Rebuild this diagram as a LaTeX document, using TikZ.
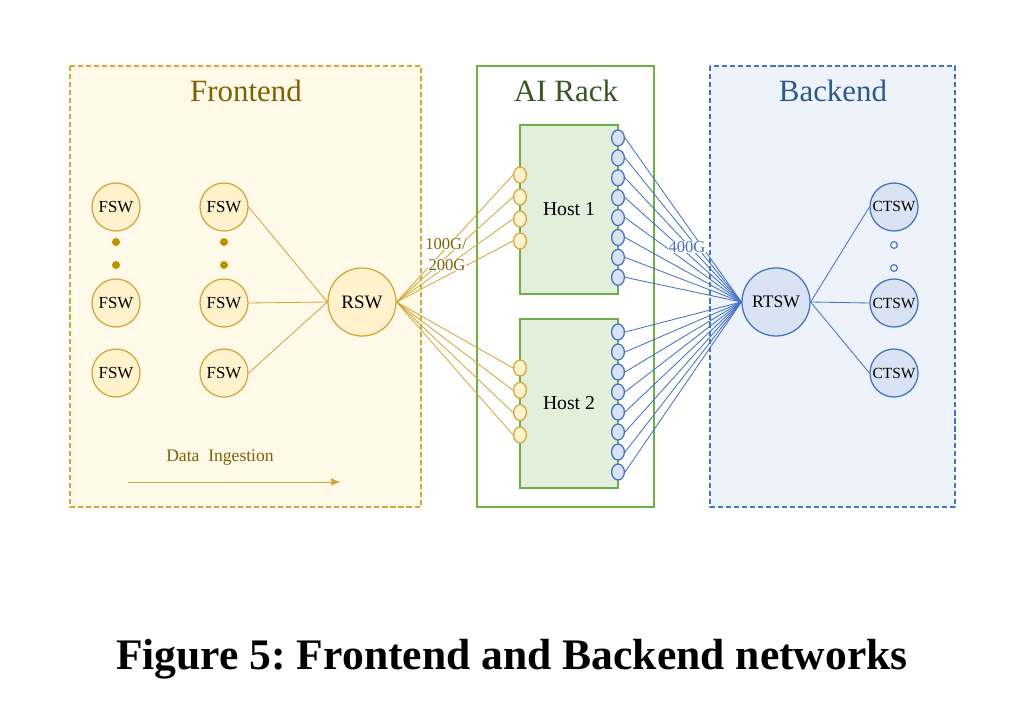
\documentclass[tikz,border=0pt]{standalone}
\usepackage{fontspec}
\setmainfont{Liberation Serif}
\usetikzlibrary{shapes.geometric,arrows.meta}

\definecolor{feFill}{HTML}{FFF9E9}
\definecolor{feLine}{HTML}{D2A73A}
\definecolor{feNode}{HTML}{FFF2CC}
\definecolor{feText}{HTML}{7F6000}
\definecolor{feDot}{HTML}{BF9000}
\definecolor{aiLine}{HTML}{70AD47}
\definecolor{aiText}{HTML}{375623}
\definecolor{aiFill}{HTML}{E2EFDA}
\definecolor{beFill}{HTML}{EEF2FA}
\definecolor{beLine}{HTML}{4472C4}
\definecolor{beNode}{HTML}{DAE3F3}
\definecolor{beText}{HTML}{2C5A8A}

\tikzset{
  panel/.style={line width=0.9pt,dash pattern=on 3.6pt off 2.1pt},
  title/.style={font=\fontsize{22}{22}\selectfont},
  fsw/.style={circle,draw=feLine,fill=feNode,line width=0.9pt,minimum size=1.2cm,inner sep=0pt,font=\fontsize{12}{12}\selectfont},
  ctsw/.style={circle,draw=beLine,fill=beNode,line width=0.9pt,minimum size=1.2cm,inner sep=0pt,font=\fontsize{11}{11}\selectfont},
  host/.style={rectangle,draw=aiLine,fill=aiFill,line width=0.9pt,minimum width=2.45cm,minimum height=4.225cm,font=\fontsize{14}{14}\selectfont},
  feport/.style={ellipse,draw=feLine,fill=feNode,line width=0.9pt,minimum width=0.32cm,minimum height=0.4cm,inner sep=0pt},
  beport/.style={ellipse,draw=beLine,fill=beNode,line width=0.9pt,minimum width=0.32cm,minimum height=0.4cm,inner sep=0pt},
  feedge/.style={draw=feLine,line width=0.6pt},
  beedge/.style={draw=beLine,line width=0.6pt},
  speed/.style={fill=white,inner sep=0.5pt,font=\fontsize{11.8}{11.8}\selectfont}
}

\begin{document}
\frenchspacing
\begin{tikzpicture}[x=0.025cm,y=-0.025cm]
\useasboundingbox (0,0) rectangle (1014,714);

% the three areas
\draw[panel,draw=feLine,fill=feFill] (70,66) rectangle (421,507);
\draw[line width=0.9pt,draw=aiLine] (477,66) rectangle (654,507);
\draw[panel,draw=beLine,fill=beFill] (710,66) rectangle (955,507);
\node[title,text=feText] (fetitle) at (246,91) {Frontend};
\node[title,text=aiText] (aititle) at (566,91) {AI Rack};
\node[title,text=beText] (betitle) at (833,91) {Backend};

% frontend switches
\node[fsw] (fsw11) at (116,207) {FSW};
\node[fsw] (fsw12) at (116,303) {FSW};
\node[fsw] (fsw13) at (116,373) {FSW};
\node[fsw] (fsw21) at (224,207) {FSW};
\node[fsw] (fsw22) at (224,303) {FSW};
\node[fsw] (fsw23) at (224,373) {FSW};
\foreach \x/\n in {116/1,224/2}{
  \node[circle,fill=feDot,minimum size=0.2cm,inner sep=0pt] (fdot\n a) at (\x,242) {};
  \node[circle,fill=feDot,minimum size=0.2cm,inner sep=0pt] (fdot\n b) at (\x,265) {};
}
\node[fsw,minimum size=1.7cm,font=\fontsize{13.5}{13.5}\selectfont] (rsw) at (362,302) {RSW};
\foreach \i in {1,2,3}
  \draw[feedge] (fsw2\i.east) -- (rsw.west);

% data ingestion
\node[text=feText,font=\fontsize{12.5}{12.5}\selectfont] (ingest) at (220,458) {Data\ \ Ingestion};
\coordinate (di-start) at (128,482);
\coordinate (di-end) at (340,482);
\draw[feLine,line width=0.6pt,-{Triangle[length=6.5pt,width=5pt]}] (di-start) -- (di-end);

% hosts
\node[host] (h1) at (569,209.5) {Host 1};
\node[host] (h2) at (569,403.5) {Host 2};
\foreach \i in {1,...,4}{
  \node[feport] (h1l\i) at (520,{175+22*(\i-1)}) {};
  \node[feport] (h2l\i) at (520,{368+22.3*(\i-1)}) {};
}
\foreach \i in {1,...,8}{
  \node[beport] (h1r\i) at (618,{138+19.9*(\i-1)}) {};
  \node[beport] (h2r\i) at (618,{332+20*(\i-1)}) {};
}

% backend switches
\node[ctsw,minimum size=1.7cm,font=\fontsize{12.5}{12.5}\selectfont] (rtsw) at (776,302) {RTSW};
\node[ctsw] (ctsw1) at (894,207) {CTSW};
\node[ctsw] (ctsw2) at (894,303) {CTSW};
\node[ctsw] (ctsw3) at (894,373) {CTSW};
\node[circle,draw=beLine,line width=0.8pt,minimum size=0.17cm,inner sep=0pt] (bdota) at (894,245) {};
\node[circle,draw=beLine,line width=0.8pt,minimum size=0.17cm,inner sep=0pt] (bdotb) at (894,268) {};
\foreach \i in {1,2,3}
  \draw[beedge] (rtsw.east) -- (ctsw\i.west);

% links
\foreach \i in {1,...,4}{
  \draw[feedge] (rsw.east) -- (h1l\i.west);
  \draw[feedge] (rsw.east) -- (h2l\i.west);
}
\foreach \i in {1,...,8}{
  \draw[beedge] (h1r\i.east) -- (rtsw.west);
  \draw[beedge] (h2r\i.east) -- (rtsw.west);
}
\node[speed,text=feText] (sp1) at (446,244) {100G/};
\node[speed,text=feText] (sp2) at (447,265) {200G};
\node[speed,text=beLine] (sp3) at (687,247) {400G};

% caption
\node[font=\bfseries\fontsize{31}{31}\selectfont] (caption) at (512,659) {Figure 5: Frontend and Backend networks};
\end{tikzpicture}
\end{document}
